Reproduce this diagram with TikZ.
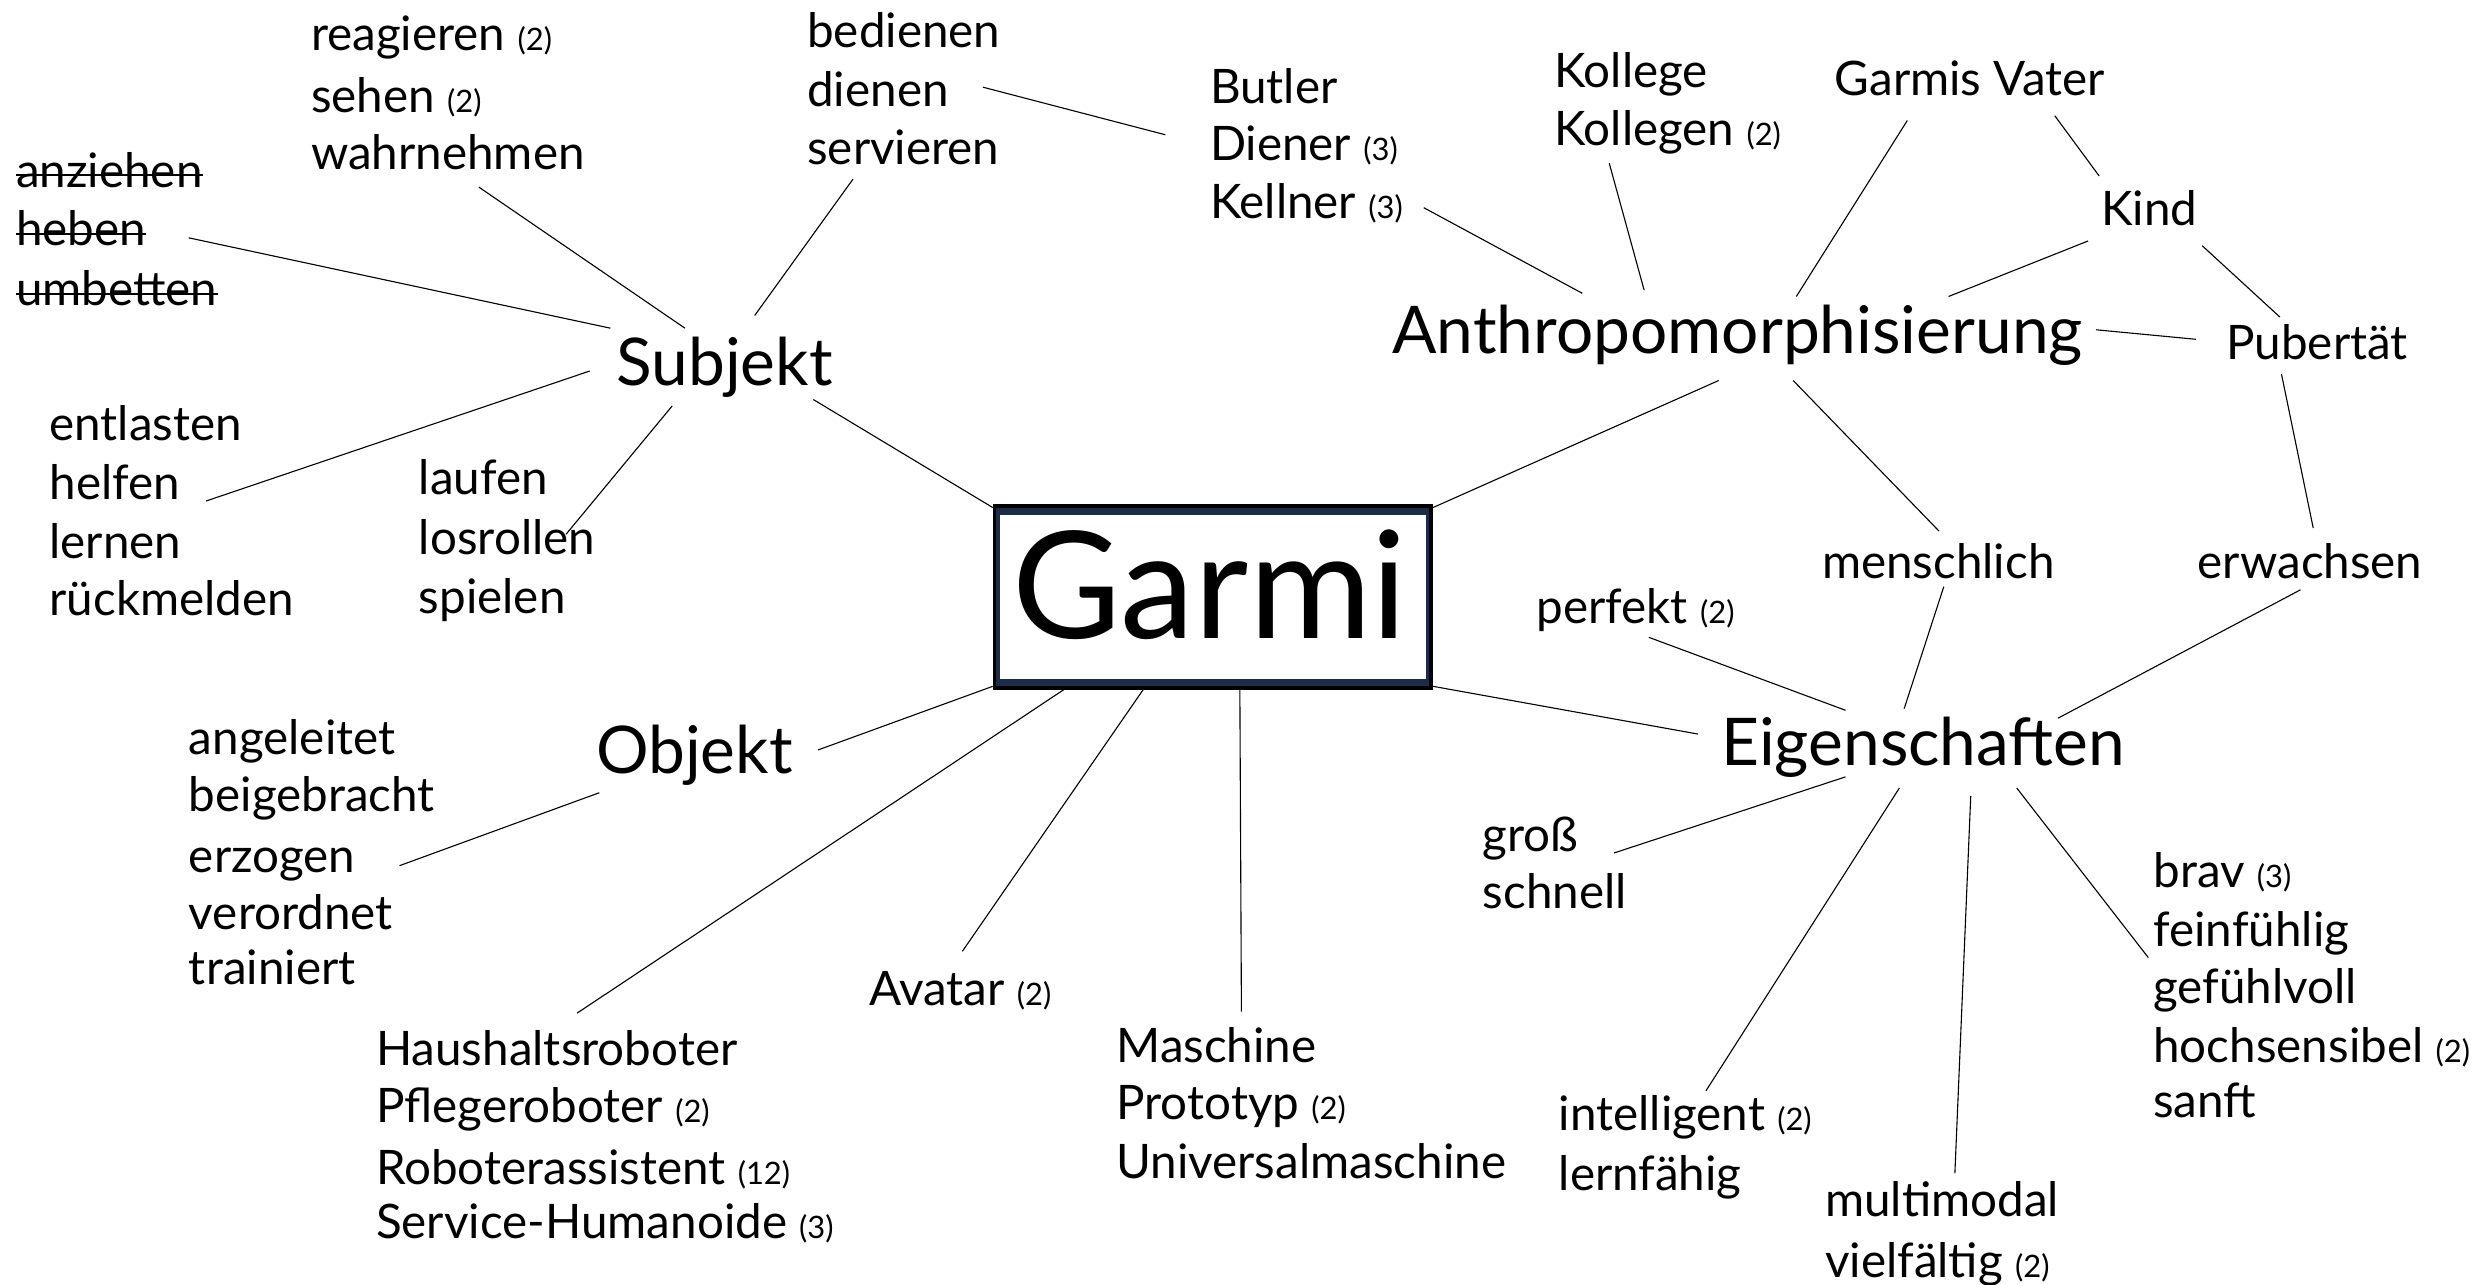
\documentclass[tikz,border=0pt]{standalone}
\usepackage{fontspec}
\setmainfont{Lato}
\newcommand\cnt[1]{{\fontsize{19.5}{22}\selectfont(#1)}}
\definecolor{boxnavy}{RGB}{28,44,72}
\tikzset{
  txt/.style={anchor=base west, inner sep=0pt, font=\fontsize{30}{36}\selectfont},
  head/.style={anchor=base, inner sep=0pt, font=\fontsize{41.5}{48}\selectfont},
  conn/.style={draw=black, line width=0.7pt},
  strike/.style={draw=black, line width=1pt},
}
\begin{document}
\begin{tikzpicture}[x=1pt,y=-1pt]
\useasboundingbox (0,0) rectangle (1568,810);
% central box
\node[draw=boxnavy, line width=4.8pt, minimum width=273pt, minimum height=108pt, inner sep=0pt] (garmi) at (765,376.5) {};
\draw[black, line width=2.4pt] ([shift={(1.2,-1.2)}]garmi.north west) rectangle ([shift={(-1.2,1.2)}]garmi.south east);
\node[anchor=base, inner sep=0pt, font=\fontsize{94}{100}\selectfont] (garmitxt) at (763,403) {Garmi};
% headings
\node[head] (subj) at (457,243) {Subjekt};
\node[head] (obj) at (438,488) {Objekt};
\node[head] (anth) at (1096,223) {Anthropomorphisierung};
\node[head] (eig) at (1213,483) {Eigenschaften};
% Subjekt texts
\node[txt] (reag) at (196,32) {reagieren \cnt{2}};
\node[txt] (sehen) at (196,71) {sehen \cnt{2}};
\node[txt] (wahr) at (196,107) {wahrnehmen};
\node[txt] (bedien) at (509,30) {bedienen};
\node[txt] (dienen) at (509,67) {dienen};
\node[txt] (serv) at (509,104) {servieren};
\node[txt] (anzi) at (10,118) {anziehen};
\node[txt] (heben) at (10,155) {heben};
\node[txt] (umbet) at (10,193) {umbetten};
\draw[strike] ([yshift=7.5pt]anzi.base west) -- ([yshift=7.5pt]anzi.base east);
\draw[strike] ([yshift=7.5pt]heben.base west) -- ([yshift=7.5pt]heben.base east);
\draw[strike] ([yshift=7.5pt]umbet.base west) -- ([yshift=7.5pt]umbet.base east);
\node[txt] (entl) at (31,278) {entlasten};
\node[txt] (helf) at (31,315) {helfen};
\node[txt] (lern) at (31,352) {lernen};
\node[txt] (rueck) at (31,388) {rückmelden};
\node[txt] (lauf) at (264,312) {laufen};
\node[txt] (losr) at (264,350) {losrollen};
\node[txt] (spiel) at (264,387) {spielen};
% Objekt texts
\node[txt] (angel) at (119,476) {angeleitet};
\node[txt] (beige) at (119,512) {beigebracht};
\node[txt] (erzog) at (119,550) {erzogen};
\node[txt] (veror) at (119,586) {verordnet};
\node[txt] (train) at (119,621) {trainiert};
\node[txt] (haus) at (237,672) {Haushaltsroboter};
\node[txt] (pfleg) at (237,708) {Pflegeroboter \cnt{2}};
\node[txt] (robas) at (237,747) {Roboterassistent \cnt{12}};
\node[txt] (serv2) at (237,781) {Service-Humanoide \cnt{3}};
\node[txt] (avat) at (548,634) {Avatar \cnt{2}};
\node[txt] (masch) at (704,670) {Maschine};
\node[txt] (proto) at (704,706) {Prototyp \cnt{2}};
\node[txt] (univ) at (704,743) {Universalmaschine};
% Anthropomorphisierung texts
\node[txt] (butl) at (763,65) {Butler};
\node[txt] (dien) at (763,101) {Diener \cnt{3}};
\node[txt] (kell) at (763,138) {Kellner \cnt{3}};
\node[txt] (koll) at (980,55) {Kollege};
\node[txt] (kolln) at (980,92) {Kollegen \cnt{2}};
\node[txt] (vater) at (1157,60) {Garmis Vater};
\node[txt] (kind) at (1325,142) {Kind};
\node[txt] (pub) at (1404,227) {Pubertät};
\node[txt] (mensch) at (1149,365) {menschlich};
\node[txt] (erw) at (1386,365) {erwachsen};
% Eigenschaften texts
\node[txt] (perf) at (969,393) {perfekt \cnt{2}};
\node[txt] (gross) at (935,537) {groß};
\node[txt] (schn) at (935,573) {schnell};
\node[txt] (brav) at (1358,560) {brav \cnt{3}};
\node[txt] (feinf) at (1358,597) {feinfühlig};
\node[txt] (gefv) at (1358,633) {gefühlvoll};
\node[txt] (hochs) at (1358,670) {hochsensibel \cnt{2}};
\node[txt] (sanft) at (1358,705) {sanft};
\node[txt] (intel) at (983,713) {intelligent \cnt{2}};
\node[txt] (lernf) at (983,751) {lernfähig};
\node[txt] (multi) at (1151,767) {multimodal};
\node[txt] (vielf) at (1151,806) {vielfältig \cnt{2}};
% connectors
\draw[conn] (garmi.north west) -- ([shift={(56,9)}]subj.base);
\draw[conn] ([shift={(-25,-36)}]subj.base) -- ([shift={(106,11)}]wahr.base west);
\draw[conn] ([shift={(19,-44)}]subj.base) -- ([shift={(29,9)}]serv.base west);
\draw[conn] ([shift={(-72,-36)}]subj.base) -- ([shift={(109,-5)}]heben.base west);
\draw[conn] ([shift={(-85,-9)}]subj.base) -- ([shift={(99,1)}]helf.base west);
\draw[conn] ([shift={(-33,13)}]subj.base) -- ([shift={(93,-13)}]losr.base west);
\draw[conn] ([shift={(111,-12)}]dienen.base west) -- ([shift={(-28,-16)}]dien.base west);
\draw[conn] ([shift={(135,-7)}]kell.base west) -- ([shift={(-98,-38)}]anth.base);
\draw[conn] ([shift={(35,11)}]kolln.base west) -- ([shift={(-59,-40)}]anth.base);
\draw[conn] ([shift={(46,16)}]vater.base west) -- ([shift={(37,-36)}]anth.base);
\draw[conn] ([shift={(139,13)}]vater.base west) -- ([shift={(-1,-31)}]kind.base west);
\draw[conn] ([shift={(-8,10)}]kind.base west) -- ([shift={(133,-36)}]anth.base);
\draw[conn] ([shift={(64,13)}]kind.base west) -- ([shift={(34,-27)}]pub.base west);
\draw[conn] ([shift={(226,-15)}]anth.base) -- ([shift={(-19,-13)}]pub.base west);
\draw[conn] ([shift={(35,9)}]pub.base west) -- ([shift={(73,-32)}]erw.base west);
\draw[conn] ([shift={(35,17)}]anth.base) -- ([shift={(74,-30)}]mensch.base west);
\draw[conn] ([shift={(-12,17)}]anth.base) -- (garmi.north east);
\draw[conn] ([shift={(77,5)}]mensch.base west) -- ([shift={(-12,-36)}]eig.base);
\draw[conn] ([shift={(65,7)}]erw.base west) -- ([shift={(85,-30)}]eig.base);
\draw[conn] ([shift={(71,9)}]perf.base west) -- ([shift={(-49,-35)}]eig.base);
\draw[conn] (garmi.south east) -- ([shift={(-142,-20)}]eig.base);
\draw[conn] ([shift={(-49,7)}]eig.base) -- ([shift={(83,1)}]gross.base west);
\draw[conn] ([shift={(-15,14)}]eig.base) -- ([shift={(93,-25)}]intel.base west);
\draw[conn] ([shift={(30,19)}]eig.base) -- ([shift={(82,-27)}]multi.base west);
\draw[conn] ([shift={(59,14)}]eig.base) -- ([shift={(-3,7)}]feinf.base west);
\draw[conn] (garmi.south west) -- ([shift={(78,-15)}]obj.base);
\draw[conn] ([shift={(-60,12)}]obj.base) -- ([shift={(133,-4)}]erzog.base west);
\draw[conn] ([shift={(48,0)}]garmi.south west) -- ([shift={(127,-33)}]haus.base west);
\draw[conn] ([shift={(95,2)}]garmi.south west) -- ([shift={(59,-34)}]avat.base west);
\draw[conn] ([shift={(17,0)}]garmi.south) -- ([shift={(79,-32)}]masch.base west);
\end{tikzpicture}
\end{document}
